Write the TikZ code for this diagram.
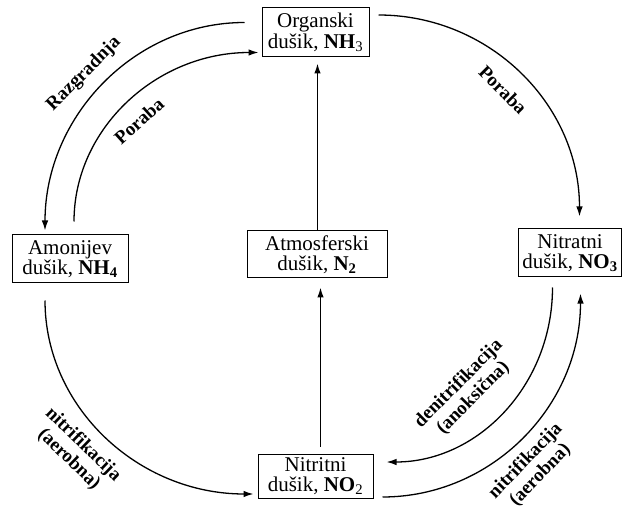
\documentclass[tikz,border=0pt]{standalone}
\usepackage{fontspec}
\setmainfont{Liberation Serif}
\usetikzlibrary{calc,arrows.meta}
\begin{document}
\begin{tikzpicture}[x=1pt,y=-1pt,
  box/.style={draw,line width=1pt,inner sep=0pt,align=center,
    font=\fontsize{21}{20.5}\selectfont},
  conn/.style={line width=1.3pt,-{Latex[length=10pt,width=6.5pt]}},
  lab/.style={font=\fontsize{19}{20.5}\selectfont\bfseries,align=center,inner sep=0pt}]
\useasboundingbox (0,0) rectangle (623,510);
\node[box,minimum width=107pt,minimum height=49pt] (org) at (315.5,32.5) {Organski\\dušik, \textbf{NH}\textsubscript{3}};
\node[box,minimum width=116pt,minimum height=48pt] (amo) at (70,259) {Amonijev\\dušik, \textbf{NH\textsubscript{4}}};
\node[box,minimum width=140pt,minimum height=47pt] (atm) at (317,254.5) {Atmosferski\\dušik, \textbf{N\textsubscript{2}}};
\node[box,minimum width=103pt,minimum height=48pt] (nat) at (570,253) {Nitratni\\dušik, \textbf{NO\textsubscript{3}}};
\node[box,minimum width=115pt,minimum height=44pt] (nit) at (315.5,476) {Nitritni\\dušik, \textbf{NO}\textsubscript{2}};
% arcs
\draw[conn] ($(org.west)+(-17,-10)$) .. controls +(-110,0) and +(0,-114) .. ($(amo.north)+(-25,-4)$);
\draw[conn] ($(amo.north)+(4,-13)$) .. controls +(0,-93) and +(-102,0) .. ($(org.west)+(-3,20)$);
\draw[conn] ($(org.east)+(9,-17.5)$) .. controls +(111,0) and +(0,-112) .. ($(nat.north)+(9.5,-12)$);
\draw[conn] ($(amo.south)+(-25,17)$) .. controls +(0,107) and +(-115,0) .. ($(nit.west)+(-4,18)$);
\draw[conn] ($(nat.south)+(-17.5,10)$) .. controls +(0,97) and +(92,0) .. ($(nit.east)+(13,-14)$);
\draw[conn] ($(nit.east)+(9,21)$) .. controls +(109,0) and +(0,113) .. ($(nat.south)+(10.5,16)$);
% verticals
\draw[conn,shorten >=6pt] ($(atm.north)+(0.5,0)$) coordinate (an) -- (an |- org.south);
\draw[conn,shorten <=7pt,shorten >=9pt] ($(nit.north)+(5,0)$) coordinate (nn) -- (nn |- atm.south);
% labels
\node[lab,rotate=45] (l1) at (84,74) {Razgradnja};
\node[lab,rotate=42] (l2) at (139,121) {Poraba};
\node[lab,rotate=-45] (l3) at (503,90) {Poraba};
\node[lab,rotate=-44] (l4) at (76,452) {nitrifikacija\\(aerobna)};
\node[lab,rotate=45] (l5) at (466,391) {denitrifikacija\\(anoksična)};
\node[lab,rotate=46] (l6) at (533,468) {nitrifikacija\\(aerobna)};
\end{tikzpicture}
\end{document}
